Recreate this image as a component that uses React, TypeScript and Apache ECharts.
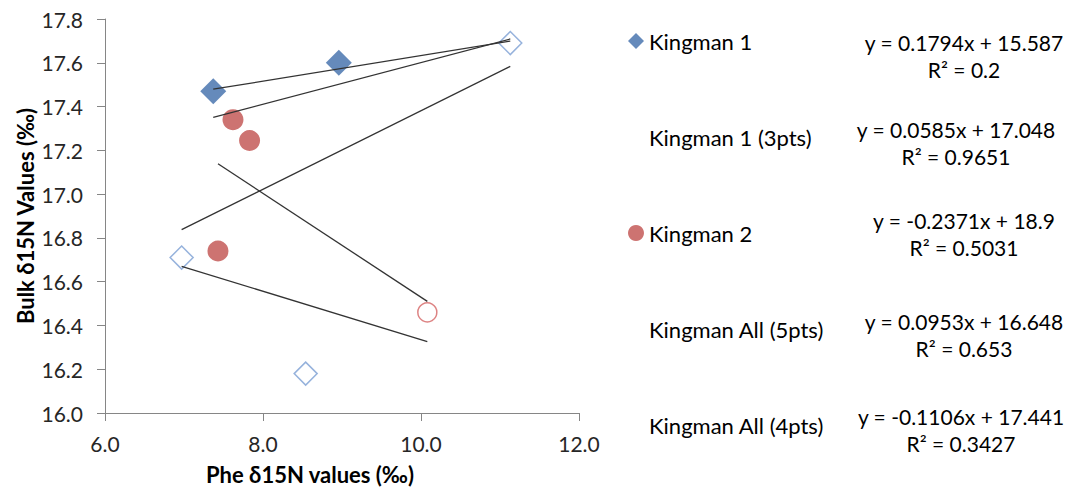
import React, { useEffect, useRef } from "react";
import * as echarts from "echarts";

// Kingman 1 points: Phe δ15N (x) against bulk δ15N (y); open markers flagged
const kingman1X = [6.97, 7.37, 8.54, 8.96, 11.13];
const kingman1Y = [16.71, 17.47, 16.18, 17.6, 17.69];
const kingman1Open = [true, false, true, false, true];

// Kingman 2 points
const kingman2X = [7.43, 7.62, 7.83, 10.08];
const kingman2Y = [16.74, 17.34, 17.245, 16.46];
const kingman2Open = [false, false, false, true];

// Linear fits: y = slope * x + intercept, drawn over their fitted x range
const trendSeriesNames = [
  "Linear (Kingman 1)",
  "Kingman 1 (3pts)",
  "Linear (Kingman 2)",
  "Kingman All (5pts)",
  "Kingman All (4pts)",
];
const trendSlopes = [0.1794, 0.0585, -0.2371, 0.0953, -0.1106];
const trendIntercepts = [15.587, 17.048, 18.9, 16.648, 17.441];
const trendR2 = [0.2, 0.9651, 0.5031, 0.653, 0.3427];
const trendXFrom = [6.97, 7.37, 7.43, 7.37, 6.97];
const trendXTo = [11.13, 11.13, 10.08, 11.13, 10.08];

const legendNames = [
  "Kingman 1",
  "Kingman 1 (3pts)",
  "Kingman 2",
  "Kingman All (5pts)",
  "Kingman All (4pts)",
];
const legendIcons = ["diamond", "none", "circle", "none", "none"];

const FONT = 'Lato, "Open Sans", "Noto Sans", sans-serif';
const BLUE = "#3F6DAA";
const BLUE_OPEN = "#7C9FD3";
const RED = "#C0504D";
const RED_OPEN = "#D46464";

// where each fit equation sits, beside its legend entry
const eqCenterX = [964, 956, 964, 964, 961];
const eqCenterY = [56, 142.5, 233.5, 334.5, 430];

export default function App() {
  const ref = useRef<HTMLDivElement>(null);

  useEffect(() => {
    if (!ref.current) return;
    const chart = echarts.init(ref.current, undefined, { renderer: "svg" });

    const k1Data = kingman1X.map((x, i) => ({
      value: [x, kingman1Y[i]],
      symbolSize: kingman1Open[i] ? 23 : 26,
      itemStyle: kingman1Open[i]
        ? { color: "#ffffff", borderColor: BLUE_OPEN, borderWidth: 1.5 }
        : { color: BLUE },
    }));
    const k2Data = kingman2X.map((x, i) => ({
      value: [x, kingman2Y[i]],
      symbolSize: kingman2Open[i] ? 19 : 21,
      itemStyle: kingman2Open[i]
        ? { color: "#ffffff", borderColor: RED_OPEN, borderWidth: 1.5 }
        : { color: RED },
    }));

    const trendSeries = trendSeriesNames.map((name, i) => ({
      name,
      type: "line",
      z: 4,
      symbol: "none",
      showSymbol: false,
      silent: true,
      lineStyle: { color: "#333333", width: 1.3 },
      data: [trendXFrom[i], trendXTo[i]].map((x) => [
        x,
        trendSlopes[i] * x + trendIntercepts[i],
      ]),
    }));

    const equations = trendSlopes.map((s, i) => ({
      type: "text",
      x: eqCenterX[i],
      y: eqCenterY[i],
      style: {
        text: `y = ${s}x + ${trendIntercepts[i]}\nR² = ${trendR2[i]}`,
        fontFamily: FONT,
        fontSize: 21,
        lineHeight: 27,
        fill: "#000000",
        align: "center",
        verticalAlign: "middle",
      },
    }));

    chart.setOption({
      animation: false,
      backgroundColor: "#ffffff",
      grid: { left: 105, top: 19, width: 474, height: 394, containLabel: false },
      xAxis: {
        type: "value",
        min: 6,
        max: 12,
        interval: 2,
        name: "Phe δ15N values (‰)",
        nameLocation: "middle",
        nameGap: 50,
        nameTextStyle: {
          fontFamily: FONT,
          fontWeight: "bold",
          fontSize: 22,
          color: "#000000",
          padding: [0, 64, 0, 0],
        },
        axisLine: { lineStyle: { color: "#868686", width: 1 } },
        axisTick: { show: true, length: 8, lineStyle: { color: "#868686" } },
        axisLabel: {
          margin: 20,
          fontFamily: FONT,
          fontSize: 21,
          color: "#262626",
          formatter: (v: number) => v.toFixed(1),
        },
        splitLine: { show: false },
      },
      yAxis: {
        type: "value",
        min: 16,
        max: 17.8,
        interval: 0.2,
        name: "Bulk δ15N Values (‰)",
        nameLocation: "middle",
        nameGap: 69,
        nameTextStyle: {
          fontFamily: FONT,
          fontWeight: "bold",
          fontSize: 22,
          color: "#000000",
        },
        axisLine: { show: true, lineStyle: { color: "#868686", width: 1 } },
        axisTick: { show: true, length: 8, lineStyle: { color: "#868686" } },
        axisLabel: {
          margin: 22,
          fontFamily: FONT,
          fontSize: 21,
          color: "#262626",
          formatter: (v: number) => v.toFixed(1),
        },
        splitLine: { show: false },
      },
      legend: {
        orient: "vertical",
        left: 628,
        top: 30,
        padding: 0,
        itemWidth: 16,
        itemHeight: 16,
        itemGap: 74,
        selectedMode: false,
        textStyle: {
          fontFamily: FONT,
          fontSize: 22,
          lineHeight: 22,
          color: "#000000",
        },
        data: legendNames.map((name, i) => ({ name, icon: legendIcons[i] })),
      },
      graphic: equations,
      series: [
        {
          name: "Kingman 1",
          type: "scatter",
          symbol: "diamond",
          symbolSize: 26,
          z: 3,
          itemStyle: { color: BLUE },
          data: k1Data,
        },
        {
          name: "Kingman 2",
          type: "scatter",
          symbol: "circle",
          symbolSize: 21,
          z: 3,
          itemStyle: { color: RED },
          data: k2Data,
        },
        ...trendSeries,
      ],
    });

    return () => chart.dispose();
  }, []);

  return (
    <div
      ref={ref}
      style={{ position: "absolute", left: 0, top: 0, width: 1068, height: 492 }}
    />
  );
}
